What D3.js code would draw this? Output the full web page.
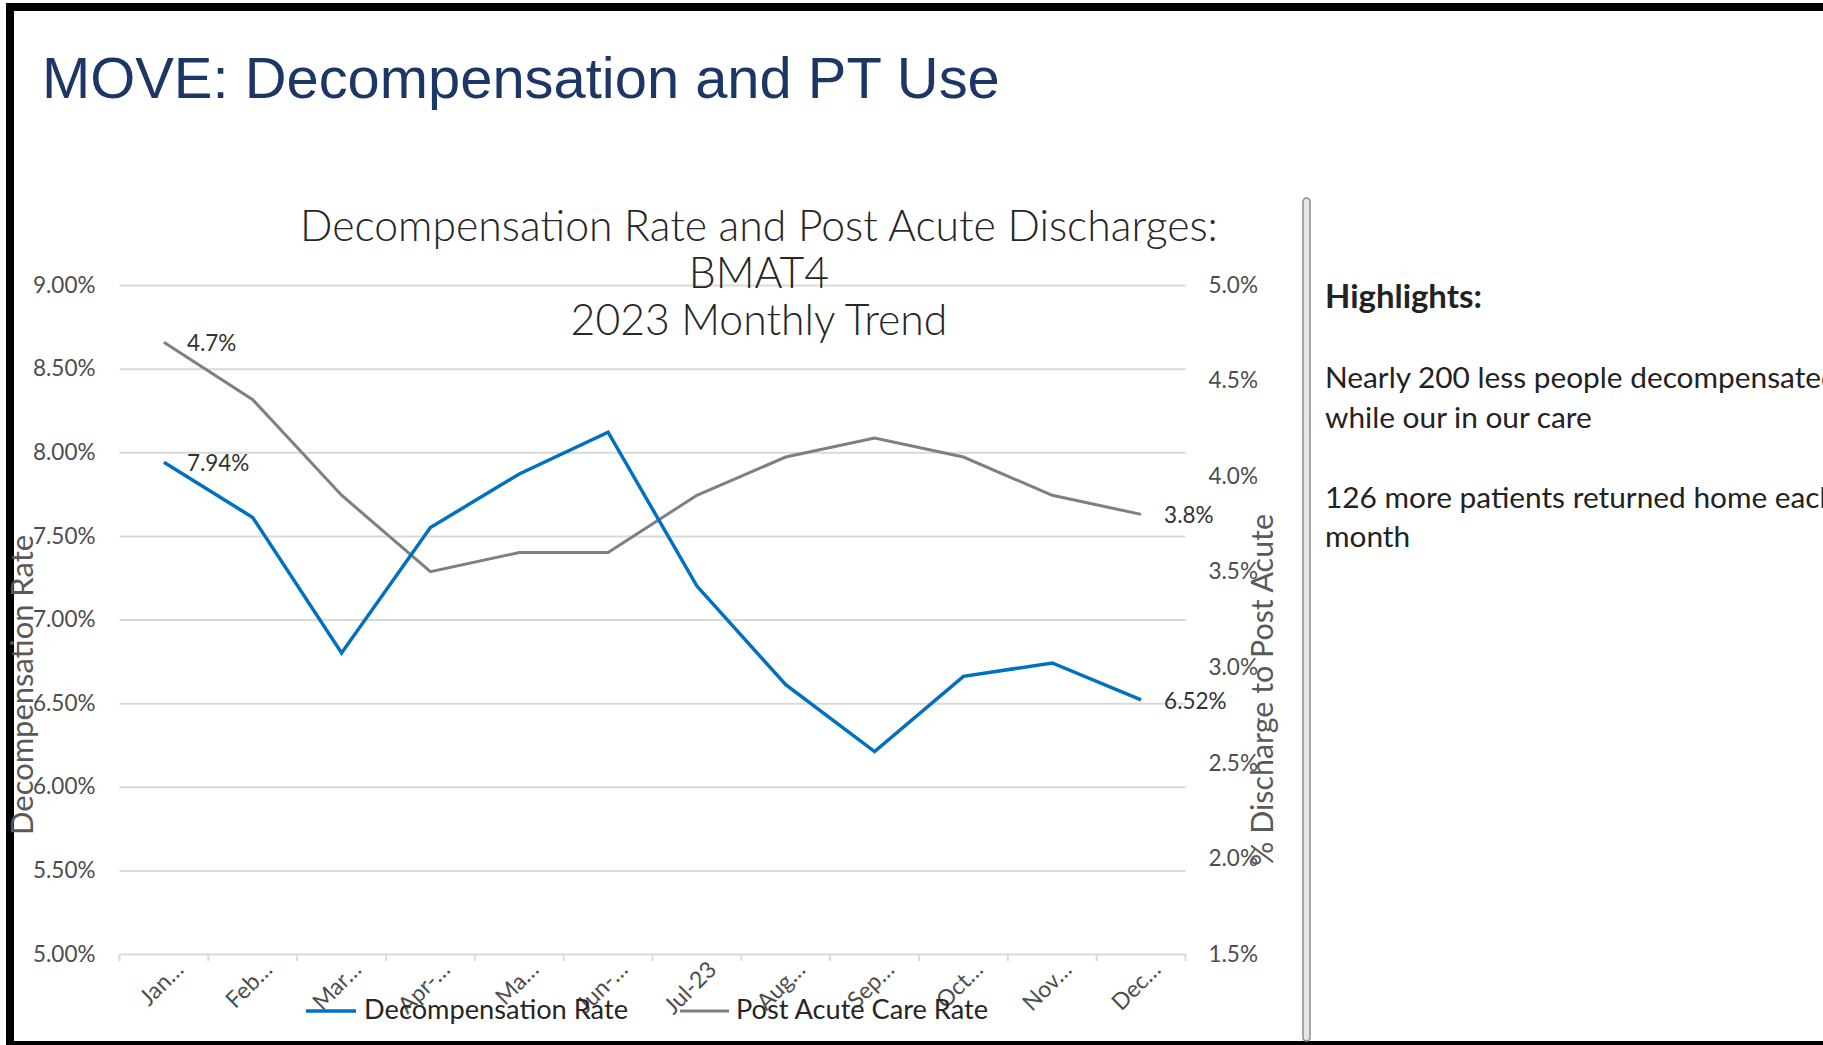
<!DOCTYPE html>
<html lang="en">
<head>
<meta charset="utf-8">
<title>MOVE: Decompensation and PT Use</title>
<script src="https://cdnjs.cloudflare.com/ajax/libs/d3/7.8.5/d3.min.js"></script>
<style>
  body { margin: 0; background: #fff; }
  svg { display: block; }
  .axis text { font-family: Lato, "DejaVu Sans", sans-serif; fill: #4d4d4d; }
  .axis .domain { display: none; }
  .grid line { stroke: #d9d9d9; stroke-width: 2; }
  .grid .domain { display: none; }
</style>
</head>
<body>
<svg id="slide" width="1823" height="1045"></svg>
<script>
// ---- data ----
const months = ["Jan…", "Feb…", "Mar…", "Apr-…", "Ma…", "Jun-…", "Jul-23", "Aug…", "Sep…", "Oct…", "Nov…", "Dec…"];
const decompRate = [7.94, 7.61, 6.80, 7.55, 7.87, 8.12, 7.20, 6.61, 6.21, 6.66, 6.74, 6.52];
const postAcuteRate = [4.7, 4.4, 3.9, 3.5, 3.6, 3.6, 3.9, 4.1, 4.2, 4.1, 3.9, 3.8];
const leftTicks = [5.0, 5.5, 6.0, 6.5, 7.0, 7.5, 8.0, 8.5, 9.0];
const rightTicks = [1.5, 2.0, 2.5, 3.0, 3.5, 4.0, 4.5, 5.0];
const chartTitle = ["Decompensation Rate and Post Acute Discharges:", "BMAT4", "2023 Monthly Trend"];
const seriesNames = ["Decompensation Rate", "Post Acute Care Rate"];
const highlights = [
  "Nearly 200 less people decompensated",
  "while our in our care",
  "",
  "126 more patients returned home each",
  "month"
];

const svg = d3.select("#slide");
const W = +svg.attr("width"), H = +svg.attr("height");

// set font-size so the text spans the wanted width
function fitWidth(text, target) {
  const w = text.node().getComputedTextLength();
  const fs = parseFloat(text.attr("font-size"));
  text.attr("font-size", (fs * target / w).toFixed(2));
  return fs * target / w;
}

// slide frame
svg.append("rect").attr("width", W).attr("height", H).attr("fill", "#fff");
svg.append("rect").attr("x", 6).attr("y", 3).attr("width", W - 6).attr("height", 8).attr("fill", "#000");
svg.append("rect").attr("x", 6).attr("y", 3).attr("width", 8).attr("height", H - 3).attr("fill", "#000");
svg.append("rect").attr("x", 6).attr("y", 1041).attr("width", W - 6).attr("height", 4).attr("fill", "#000");

// slide title
const title = svg.append("text")
    .attr("x", 42).attr("y", 98)
    .attr("font-family", "'Liberation Sans', Arial, sans-serif")
    .attr("font-size", 58)
    .attr("fill", "#1c3766")
    .text("MOVE: Decompensation and PT Use");
fitWidth(title, 958);

// ---- chart ----
const plot = { left: 119.5, right: 1185.5, top: 285, bottom: 954 };

const x = d3.scaleBand().domain(months).range([plot.left, plot.right]);
const yL = d3.scaleLinear().domain([5, 9]).range([plot.bottom, plot.top]);
const yR = d3.scaleLinear().domain([1.5, 5]).range([plot.bottom, plot.top]);

// gridlines
svg.append("g")
    .attr("class", "grid")
    .attr("transform", `translate(${plot.left},0)`)
    .call(d3.axisLeft(yL).tickValues(leftTicks).tickSize(-(plot.right - plot.left)).tickFormat(""));

// x tick marks at category boundaries
const bounds = months.map(m => x(m)).concat([plot.right]);
svg.append("g").selectAll("line")
    .data(bounds)
    .join("line")
    .attr("x1", d => d).attr("x2", d => d)
    .attr("y1", plot.bottom).attr("y2", plot.bottom + 7)
    .attr("stroke", "#d9d9d9").attr("stroke-width", 2);

// left axis
svg.append("g")
    .attr("class", "axis")
    .attr("transform", `translate(${plot.left},0)`)
    .call(d3.axisLeft(yL).tickValues(leftTicks).tickSize(0).tickPadding(24).tickFormat(d => d.toFixed(2) + "%"))
    .call(g => g.selectAll("text").attr("font-size", 22.5));

// right axis
svg.append("g")
    .attr("class", "axis")
    .attr("transform", `translate(${plot.right},0)`)
    .call(d3.axisRight(yR).tickValues(rightTicks).tickSize(0).tickPadding(23).tickFormat(d => d.toFixed(1) + "%"))
    .call(g => g.selectAll("text").attr("font-size", 22.5));

// x labels, rotated
const bw = x.bandwidth();
svg.append("g")
    .attr("class", "axis")
    .selectAll("text")
    .data(months)
    .join("text")
    .attr("transform", d => `translate(${x(d) + bw / 2 + 21},971) rotate(-45)`)
    .attr("text-anchor", "end")
    .attr("font-size", 23)
    .text(d => d);

// lines
const lineL = d3.line().x((d, i) => x(months[i]) + bw / 2).y(d => yL(d));
const lineR = d3.line().x((d, i) => x(months[i]) + bw / 2).y(d => yR(d));

svg.append("path")
    .datum(postAcuteRate)
    .attr("d", lineR)
    .attr("fill", "none")
    .attr("stroke", "#7f7f7f")
    .attr("stroke-width", 3);

svg.append("path")
    .datum(decompRate)
    .attr("d", lineL)
    .attr("fill", "none")
    .attr("stroke", "#0070c0")
    .attr("stroke-width", 3.5);

// data labels on first and last points
const labels = [
  { i: 0, y: yL(decompRate[0]), t: decompRate[0].toFixed(2) + "%" },
  { i: 11, y: yL(decompRate[11]), t: decompRate[11].toFixed(2) + "%" },
  { i: 0, y: yR(postAcuteRate[0]), t: postAcuteRate[0].toFixed(1) + "%" },
  { i: 11, y: yR(postAcuteRate[11]), t: postAcuteRate[11].toFixed(1) + "%" }
];
svg.append("g")
    .attr("class", "axis")
    .selectAll("text")
    .data(labels)
    .join("text")
    .attr("x", d => x(months[d.i]) + bw / 2 + 23)
    .attr("y", d => d.y + 1)
    .attr("dy", "0.35em")
    .attr("font-size", 22.5)
    .style("fill", "#333")
    .text(d => d.t);

// chart title
const ct = svg.append("g")
    .attr("font-family", "Lato, 'DejaVu Sans', sans-serif")
    .attr("font-weight", 300)
    .attr("fill", "#262626")
    .attr("text-anchor", "middle");
const ctFirst = ct.append("text").attr("x", 759).attr("y", 241).attr("font-size", 40).text(chartTitle[0]);
const ctSize = fitWidth(ctFirst, 918);
ct.append("text").attr("x", 759).attr("y", 288).attr("font-size", ctSize).text(chartTitle[1]);
ct.append("text").attr("x", 759).attr("y", 335).attr("font-size", ctSize).text(chartTitle[2]);

// axis titles
const leftTitle = svg.append("text")
    .attr("transform", "translate(33,685) rotate(-90)")
    .attr("text-anchor", "middle")
    .attr("font-family", "Lato, 'DejaVu Sans', sans-serif")
    .attr("font-size", 26)
    .attr("fill", "#595959")
    .text("Decompensation Rate");
fitWidth(leftTitle, 300);

const rightTitle = svg.append("text")
    .attr("transform", "translate(1273,690) rotate(-90)")
    .attr("text-anchor", "middle")
    .attr("font-family", "Lato, 'DejaVu Sans', sans-serif")
    .attr("font-size", 26)
    .attr("fill", "#595959")
    .text("% Discharge to Post Acute");
fitWidth(rightTitle, 352);

// legend
const legend = [
  { name: seriesNames[0], color: "#0070c0", w: 3.5, x0: 306, x1: 356, tx: 364, tw: 264 },
  { name: seriesNames[1], color: "#7f7f7f", w: 3, x0: 680, x1: 729, tx: 736, tw: 252 }
];
const lg = svg.append("g").selectAll("g").data(legend).join("g");
lg.append("line")
    .attr("x1", d => d.x0).attr("x2", d => d.x1)
    .attr("y1", 1011).attr("y2", 1011)
    .attr("stroke", d => d.color).attr("stroke-width", d => d.w);
lg.append("text")
    .attr("x", d => d.tx).attr("y", 1019)
    .attr("font-family", "Lato, 'DejaVu Sans', sans-serif")
    .attr("font-size", 22)
    .attr("fill", "#262626")
    .text(d => d.name)
    .each(function (d) { fitWidth(d3.select(this), d.tw); });

// divider
svg.append("rect")
    .attr("x", 1303).attr("y", 198)
    .attr("width", 7).attr("height", 1041 - 198)
    .attr("rx", 3.5)
    .attr("fill", "#e6e6e6")
    .attr("stroke", "#8c8c8c")
    .attr("stroke-width", 1.5);

// highlights panel
const hl = svg.append("g").attr("font-family", "Lato, 'Open Sans', sans-serif").attr("fill", "#222");
const hTitle = hl.append("text")
    .attr("x", 1325).attr("y", 308)
    .attr("font-size", 32)
    .attr("font-weight", "bold")
    .text("Highlights:");
fitWidth(hTitle, 157);

const probe = hl.append("text").attr("font-size", 30).text(highlights[1]);
const bodySize = fitWidth(probe, 267);
probe.remove();

const lineY = [388, 428, 468, 508, 547];
hl.selectAll("text.body")
    .data(highlights)
    .join("text")
    .attr("class", "body")
    .attr("x", 1325)
    .attr("y", (d, i) => lineY[i])
    .attr("font-size", bodySize)
    .text(d => d);
</script>
</body>
</html>
